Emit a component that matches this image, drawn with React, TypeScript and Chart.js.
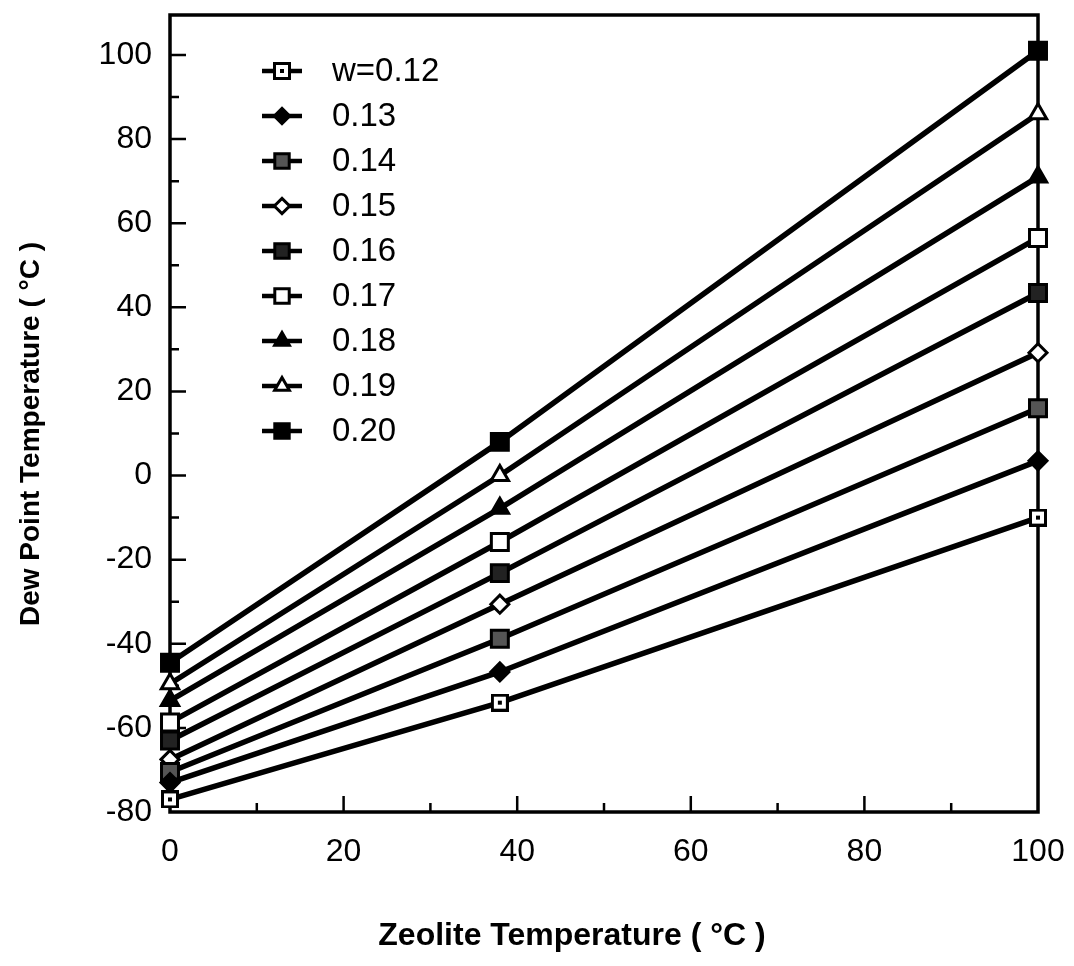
import React, { useEffect, useRef } from 'react';
import { Chart, registerables } from 'chart.js';
import { drawPoint } from 'chart.js/helpers';

Chart.register(...registerables);

// ---- data ----
const X_VALUES = [0, 38, 100];
const SERIES_LABELS = ['w=0.12', '0.13', '0.14', '0.15', '0.16', '0.17', '0.18', '0.19', '0.20'];
const W_012 = [-77, -54, -10];
const W_013 = [-73, -46.7, 3.5];
const W_014 = [-70.5, -38.8, 16];
const W_015 = [-67.5, -30.6, 29.2];
const W_016 = [-63, -23.2, 43.4];
const W_017 = [-58.7, -15.8, 56.5];
const W_018 = [-53.5, -7.8, 71];
const W_019 = [-49.5, 0, 86];
const W_020 = [-44.5, 8, 101];
const SERIES_VALUES = [W_012, W_013, W_014, W_015, W_016, W_017, W_018, W_019, W_020];

const X_TICKS = [0, 20, 40, 60, 80, 100];
const Y_TICKS = [-80, -60, -40, -20, 0, 20, 40, 60, 80, 100];
const X_MAJOR_MARKS = [20, 40, 60, 80];
const X_MINOR_MARKS = [10, 30, 50, 70, 90];
const Y_MAJOR_MARKS = [-60, -40, -20, 0, 20, 40, 60, 80, 100];
const Y_MINOR_MARKS = [-70, -50, -30, -10, 10, 30, 50, 70, 90];
const X_TITLE = 'Zeolite Temperature ( °C )';
const Y_TITLE = 'Dew Point Temperature ( °C )';

const FONT = '"Liberation Sans", Arial, sans-serif';

function dotSquare(): HTMLCanvasElement {
  const c = document.createElement('canvas');
  c.width = 18; c.height = 18;
  const g = c.getContext('2d')!;
  g.fillStyle = '#fff';
  g.fillRect(1.5, 1.5, 15, 15);
  g.strokeStyle = '#000';
  g.lineWidth = 3;
  g.strokeRect(1.5, 1.5, 15, 15);
  g.fillStyle = '#000';
  g.fillRect(7, 7, 4, 4);
  return c;
}

function markerStyles() {
  return [
    { pointStyle: dotSquare(), radius: 9, bg: '#fff' },
    { pointStyle: 'rectRot', radius: 9, bg: '#000' },
    { pointStyle: 'rect', radius: 12, bg: '#555' },
    { pointStyle: 'rectRot', radius: 9, bg: '#fff' },
    { pointStyle: 'rect', radius: 12, bg: '#222' },
    { pointStyle: 'rect', radius: 12, bg: '#fff' },
    { pointStyle: 'triangle', radius: 10, bg: '#000' },
    { pointStyle: 'triangle', radius: 10, bg: '#fff' },
    { pointStyle: 'rect', radius: 12, bg: '#000' },
  ];
}

const decorPlugin = {
  id: 'decor',
  beforeDatasetsDraw(chart: any) {
    const { ctx, chartArea: a, scales } = chart;
    const x = scales.x, y = scales.y;
    ctx.save();
    ctx.strokeStyle = '#000';
    ctx.lineWidth = 3.5;
    ctx.strokeRect(a.left, a.top, a.right - a.left, a.bottom - a.top);
    ctx.lineWidth = 2.5;
    ctx.beginPath();
    X_MAJOR_MARKS.forEach(v => { const px = x.getPixelForValue(v); ctx.moveTo(px, a.bottom); ctx.lineTo(px, a.bottom - 16); });
    X_MINOR_MARKS.forEach(v => { const px = x.getPixelForValue(v); ctx.moveTo(px, a.bottom); ctx.lineTo(px, a.bottom - 9); });
    Y_MAJOR_MARKS.forEach(v => { const py = y.getPixelForValue(v); ctx.moveTo(a.left, py); ctx.lineTo(a.left + 16, py); });
    Y_MINOR_MARKS.forEach(v => { const py = y.getPixelForValue(v); ctx.moveTo(a.left, py); ctx.lineTo(a.left + 9, py); });
    ctx.stroke();
    ctx.restore();
  },
  afterDatasetsDraw(chart: any) {
    const { ctx } = chart;
    ctx.save();
    // legend
    const rowTop = 71, rowStep = 45, mx = 282;
    chart.data.datasets.forEach((ds: any, i: number) => {
      const yy = rowTop + i * rowStep;
      ctx.strokeStyle = '#000';
      ctx.lineWidth = 4.5;
      ctx.beginPath();
      ctx.moveTo(mx - 20, yy); ctx.lineTo(mx + 20, yy);
      ctx.stroke();
      ctx.fillStyle = ds.pointBackgroundColor;
      ctx.strokeStyle = '#000';
      ctx.lineWidth = 3;
      drawPoint(ctx, { pointStyle: ds.pointStyle, radius: ds.pointRadius * 0.85, borderWidth: 3, rotation: 0 }, mx, yy);
      ctx.fillStyle = '#000';
      ctx.font = `33px ${FONT}`;
      ctx.textAlign = 'left';
      ctx.textBaseline = 'middle';
      ctx.fillText(ds.label, 332, yy + 1);
    });
    // axis titles
    ctx.fillStyle = '#000';
    ctx.font = `bold 32px ${FONT}`;
    ctx.textAlign = 'center';
    ctx.textBaseline = 'middle';
    ctx.fillText(X_TITLE, 572, 936);
    ctx.save();
    ctx.translate(31, 434);
    ctx.rotate(-Math.PI / 2);
    ctx.font = `bold 28px ${FONT}`;
    ctx.fillText(Y_TITLE, 0, 0);
    ctx.restore();
    ctx.restore();
  },
};

export default function App() {
  const ref = useRef<HTMLCanvasElement>(null);
  useEffect(() => {
    const styles = markerStyles();
    const chart = new Chart(ref.current!, {
      type: 'line',
      data: {
        datasets: SERIES_VALUES.map((vals, i) => ({
          label: SERIES_LABELS[i],
          data: vals.map((v, j) => ({ x: X_VALUES[j], y: v })),
          borderColor: '#000',
          borderWidth: 5.5,
          pointStyle: styles[i].pointStyle as any,
          pointRadius: styles[i].radius,
          pointBackgroundColor: styles[i].bg,
          pointBorderColor: '#000',
          pointBorderWidth: 3,
          clip: false as any,
          tension: 0,
        })),
      },
      options: {
        animation: false,
        responsive: false,
        layout: { padding: { left: 0, top: 12, right: 36, bottom: 0 } },
        plugins: { legend: { display: false }, tooltip: { enabled: false } },
        scales: {
          x: {
            type: 'linear',
            min: 0,
            max: 100,
            afterBuildTicks: (s: any) => { s.ticks = X_TICKS.map(v => ({ value: v })); },
            afterFit: (s: any) => { s.height = 154; s.paddingLeft = 0; s.paddingRight = 0; },
            grid: { display: false, drawTicks: false },
            border: { display: false },
            ticks: { color: '#000', padding: 21, font: { family: FONT, size: 32 }, maxRotation: 0, autoSkip: false },
          },
          y: {
            type: 'linear',
            min: -80,
            max: 109.5,
            afterBuildTicks: (s: any) => { s.ticks = Y_TICKS.map(v => ({ value: v })); },
            afterFit: (s: any) => { s.width = 170; s.paddingTop = 0; s.paddingBottom = 0; },
            grid: { display: false, drawTicks: false },
            border: { display: false },
            ticks: { color: '#000', padding: 18, font: { family: FONT, size: 32 }, autoSkip: false },
          },
        },
      },
      plugins: [decorPlugin],
    });
    return () => chart.destroy();
  }, []);
  return (
    <div style={{ position: 'fixed', left: 0, top: 0, width: 1074, height: 966, background: '#fff' }}>
      <canvas ref={ref} width={1074} height={966} />
    </div>
  );
}
